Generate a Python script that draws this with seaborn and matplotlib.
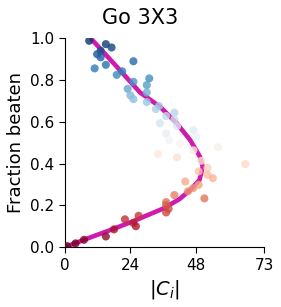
import numpy as np
import matplotlib
matplotlib.use("Agg")
import matplotlib.pyplot as plt
import seaborn as sns
import pandas as pd

# Data: cluster size |C_i| vs fraction beaten
ci_size = [8.9, 15.0, 17.1, 13.1, 11.8, 13.1, 10.9, 15.0, 25.1, 19.0, 21.0,
           30.9, 25.1, 30.0, 23.0, 30.0, 24.0, 25.1, 30.0, 33.3, 34.5, 34.8,
           40.1, 37.1, 40.1, 41.1, 37.1, 47.1, 48.1, 38.2, 42.2, 56.1, 47.1,
           34.1, 41.1, 50.0, 66.1, 52.2, 49.0, 52.2, 54.2, 44.1, 49.0, 47.0,
           45.1, 40.1, 51.1, 37.1, 37.1, 38.0, 37.1, 27.0, 25.1, 26.0, 22.0,
           18.0, 15.0, 7.0, 3.9, 0.8]
frac_beaten = [0.987, 0.971, 0.955, 0.939, 0.923, 0.908, 0.855, 0.872, 0.889,
               0.824, 0.841, 0.807, 0.791, 0.775, 0.757, 0.740, 0.726, 0.708,
               0.694, 0.660, 0.675, 0.593, 0.643, 0.627, 0.611, 0.579, 0.544,
               0.560, 0.528, 0.511, 0.494, 0.477, 0.463, 0.446, 0.429, 0.413,
               0.397, 0.379, 0.362, 0.346, 0.330, 0.314, 0.298, 0.282, 0.267,
               0.249, 0.233, 0.215, 0.200, 0.183, 0.166, 0.150, 0.116, 0.100,
               0.133, 0.085, 0.051, 0.035, 0.018, 0.005]

# fitted curve
fit_frac = [0.0, 0.04, 0.081, 0.121, 0.185, 0.23, 0.273, 0.321, 0.384, 0.432,
            0.512, 0.592, 0.671, 0.740, 0.863, 0.994]
fit_ci = [0.0, 8.0, 16.5, 24.5, 36.1, 42.0, 45.9, 49.3, 50.5, 49.5,
          45.9, 41.0, 34.9, 27.5, 19.0, 9.8]

xticks = [0, 24, 48, 73]

df = pd.DataFrame({"ci": ci_size, "frac": frac_beaten})
fit = pd.DataFrame({"ci": fit_ci, "frac": fit_frac})

sns.set_style("white")
plt.rcParams.update({"text.color": "black", "axes.labelcolor": "black",
                     "xtick.color": "black", "ytick.color": "black",
                     "axes.edgecolor": "black"})
fig = plt.figure(figsize=(2.81, 3.07), dpi=100)
ax = fig.add_axes([0.231, 0.195, 0.709, 0.681])

# curve first, points on top
sns.lineplot(data=fit, x="ci", y="frac", sort=False, color="#d01aae", lw=3.3,
             estimator=None, ax=ax)
sns.scatterplot(data=df, x="ci", y="frac", hue="frac", palette="RdBu",
                hue_norm=(0, 1), s=34, alpha=0.8, linewidth=0, legend=False,
                zorder=3, ax=ax)

ax.set_xlim(0, 73)
ax.set_ylim(0, 1.0)
ax.set_xticks(xticks)
ax.set_yticks([0, 0.2, 0.4, 0.6, 0.8, 1.0])
ax.tick_params(axis="both", labelsize=11, bottom=True, left=True, length=4)
ax.set_xlabel("$|C_i|$", fontsize=14)
ax.set_ylabel("Fraction beaten", fontsize=13)
fig.suptitle("Go 3X3", fontsize=15, y=0.975)
sns.despine(ax=ax)

fig.savefig("out.png", dpi=100)
